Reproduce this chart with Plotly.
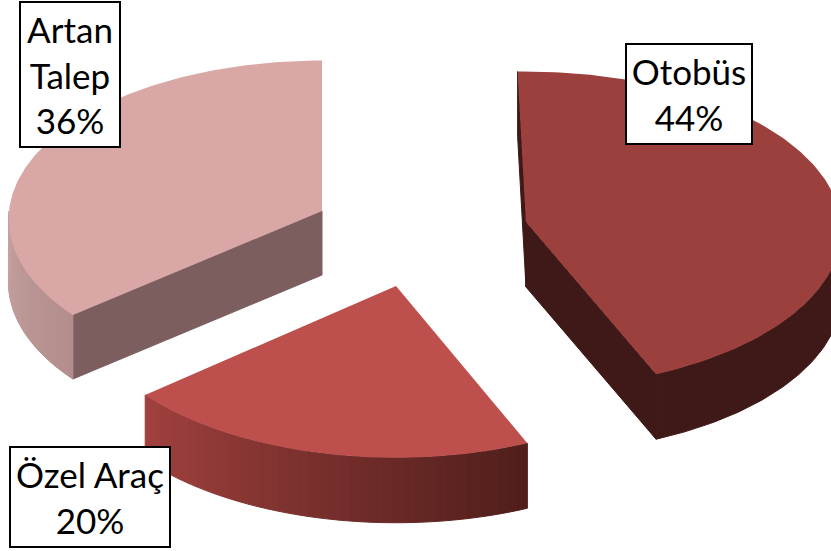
import numpy as np
import plotly.graph_objects as go

# Data
categories = ["Otobüs", "Özel Araç", "Artan Talep"]
shares = [44, 20, 36]
label_texts = ["Otobüs", "Özel Araç", "Artan<br>Talep"]

# Style / layout
W, H = 831, 551
START = -1.6
TWEAK = [0, 0.4, 1.6]
RXS = [315, 314, 313]
RYS = [158, 158, 158]
KS = [0.05, 0.08, 0.05]
DEPTH = [65, 65, 64]
CENTERS = [(526, 222), (396, 286), (322, 211)]
TOPS = ["#9b403d", "#bd4f4c", "#d8a7a6"]
FACES = ["#3f1917", "#7a302e", "#7c5e5e"]
RIM_FROM = ["#3f1917", "#4f1e1b", "#b38e8c"]   # at the smaller pie angle
RIM_TO = ["#3f1917", "#a2423f", "#c6a2a1"]     # at the larger pie angle
BOXES = [(626, 44, 752, 144), (10, 447, 170, 547), (20, 2, 120, 147)]

def pt(i, deg, depth=0):
    c = CENTERS[i]
    t = np.radians(deg)
    p = 1 / (1 + KS[i] * np.cos(t))
    return (c[0] + RXS[i] * np.sin(t) * p, c[1] - RYS[i] * np.cos(t) * p + depth)

def hex2rgb(h):
    return np.array([int(h[i:i + 2], 16) for i in (1, 3, 5)], float)

def poly(fig, pts, color, lw=0):
    xs, ys = zip(*pts)
    fig.add_trace(go.Scatter(x=xs + (xs[0],), y=ys + (ys[0],), mode="lines", fill="toself",
                             fillcolor=color, line=dict(color=color, width=lw),
                             hoverinfo="skip", showlegend=False))

fig = go.Figure()
angles = np.cumsum([0] + shares) * 3.6 + START
for i in [2, 1, 0]:
    a0, a1 = angles[i] + TWEAK[i], angles[i + 1] + TWEAK[i]
    c, d = CENTERS[i], DEPTH[i]
    # radial faces
    for a in (a1, a0):
        if i == 1 or (i == 2 and a == a1):
            continue
        poly(fig, [c, pt(i, a), pt(i, a, d), (c[0], c[1] + d)], FACES[i], 1)
    # outer rim, shaded in strips when the two shades differ
    lo, hi = max(a0, 90), min(a1, 270)
    n = 1 if RIM_FROM[i] == RIM_TO[i] else 40
    edges = np.linspace(lo, hi, n + 1)
    for j in range(n):
        mix = (j + 0.5) / n
        col = hex2rgb(RIM_FROM[i]) * (1 - mix) + hex2rgb(RIM_TO[i]) * mix
        col = "rgb(%d,%d,%d)" % tuple(col)
        arc = np.linspace(edges[j], edges[j + 1], 3 if n > 1 else 80)
        pts = [pt(i, a) for a in arc] + [pt(i, a, d) for a in arc[::-1]]
        poly(fig, pts, col, 1)
    # top
    arc = np.linspace(a0, a1, 160)
    poly(fig, [c] + [pt(i, a) for a in arc], TOPS[i], 0)

for txt, s, b in zip(label_texts, shares, BOXES):
    fig.add_annotation(x=(b[0] + b[2]) / 2, y=(b[1] + b[3]) / 2, text=f"{txt}<br>{s}%",
                       showarrow=False, width=b[2] - b[0] - 2, height=b[3] - b[1] - 2, borderpad=0,
                       bgcolor="white", bordercolor="black", borderwidth=2, align="center", valign="middle",
                       font=dict(family="Lato", size=35, color="black"))

fig.update_xaxes(visible=False, range=[0, W], fixedrange=True)
fig.update_yaxes(visible=False, range=[H, 0], fixedrange=True)
fig.update_layout(width=W, height=H, margin=dict(l=0, r=0, t=0, b=0),
                  paper_bgcolor="white", plot_bgcolor="white", showlegend=False)
fig.write_html("out.html", config={"displayModeBar": False},
               post_script="document.body.style.margin='0';")
